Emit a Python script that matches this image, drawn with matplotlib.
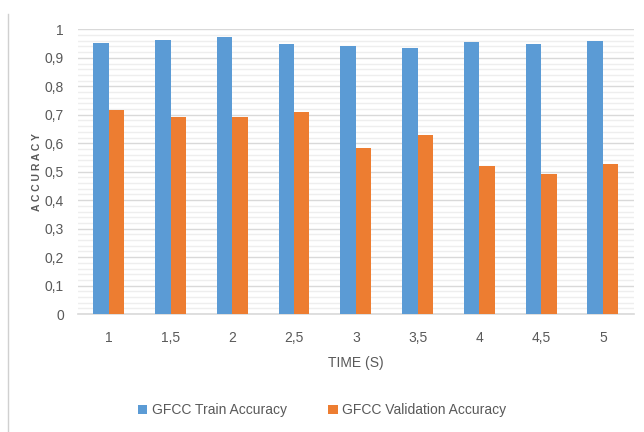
import matplotlib
matplotlib.use("Agg")
import matplotlib.pyplot as plt
import numpy as np
from matplotlib.lines import Line2D

# data
times = ["1", "1,5", "2", "2,5", "3", "3,5", "4", "4,5", "5"]
train_acc = [0.952, 0.963, 0.972, 0.950, 0.940, 0.933, 0.955, 0.950, 0.959]
val_acc = [0.717, 0.691, 0.691, 0.710, 0.583, 0.628, 0.519, 0.493, 0.526]
y_ticks = [0, 0.1, 0.2, 0.3, 0.4, 0.5, 0.6, 0.7, 0.8, 0.9, 1.0]
y_tick_labels = ["0", "0,1", "0,2", "0,3", "0,4", "0,5", "0,6", "0,7", "0,8", "0,9", "1"]

BLUE = '#5B9BD5'
ORANGE = '#ED7D31'
TXT = '#595959'

plt.rcParams['font.family'] = ['Liberation Sans Narrow', 'Liberation Sans', 'DejaVu Sans']

fig = plt.figure(figsize=(6.44, 4.32), dpi=100)
ax = fig.add_axes([0.121, 0.273, 0.863, 0.659])

x = np.arange(len(times))
w = 0.25
ax.bar(x - w / 2, train_acc, width=w, color=BLUE, label='GFCC Train Accuracy', zorder=3)
ax.bar(x + w / 2, val_acc, width=w, color=ORANGE, label='GFCC Validation Accuracy', zorder=3)

ax.set_xlim(-0.5, len(times) - 0.5)
ax.set_ylim(0, 1)
ax.set_yticks(y_ticks)
ax.set_yticklabels(y_tick_labels)
ax.set_yticks(np.arange(0, 1.0001, 0.02), minor=True)
ax.set_xticks(x)
ax.set_xticklabels(times)

ax.grid(True, axis='y', which='major', color='#D9D9D9', linewidth=1.0, zorder=0)
ax.grid(True, axis='y', which='minor', color='#EEEEEE', linewidth=1.0, zorder=0)
ax.tick_params(axis='both', which='both', length=0, colors=TXT, labelsize=10)
ax.tick_params(axis='x', pad=12)
ax.tick_params(axis='y', pad=10)
for side in ('top', 'right', 'left'):
    ax.spines[side].set_visible(False)
ax.spines['bottom'].set_color('#D9D9D9')
ax.spines['bottom'].set_linewidth(1.2)

ax.set_xlabel('TIME (S)', color=TXT, fontsize=10, labelpad=8)
ax.set_ylabel('A C C U R A C Y', color=TXT, fontsize=7.5, fontweight='bold', labelpad=2)

fig.legend(loc='center', bbox_to_anchor=(0.5, 0.05), ncol=2, frameon=False,
           fontsize=10, labelcolor=TXT, handlelength=0.7, handleheight=0.7,
           handletextpad=0.3, columnspacing=3.0)

# thin frame line on the left edge, as in the source image
fig.add_artist(Line2D([0.0124, 0.0124], [0.0, 0.968], transform=fig.transFigure,
                      color='#D0D0D0', linewidth=1.0))

fig.savefig('out.png', dpi=100)
